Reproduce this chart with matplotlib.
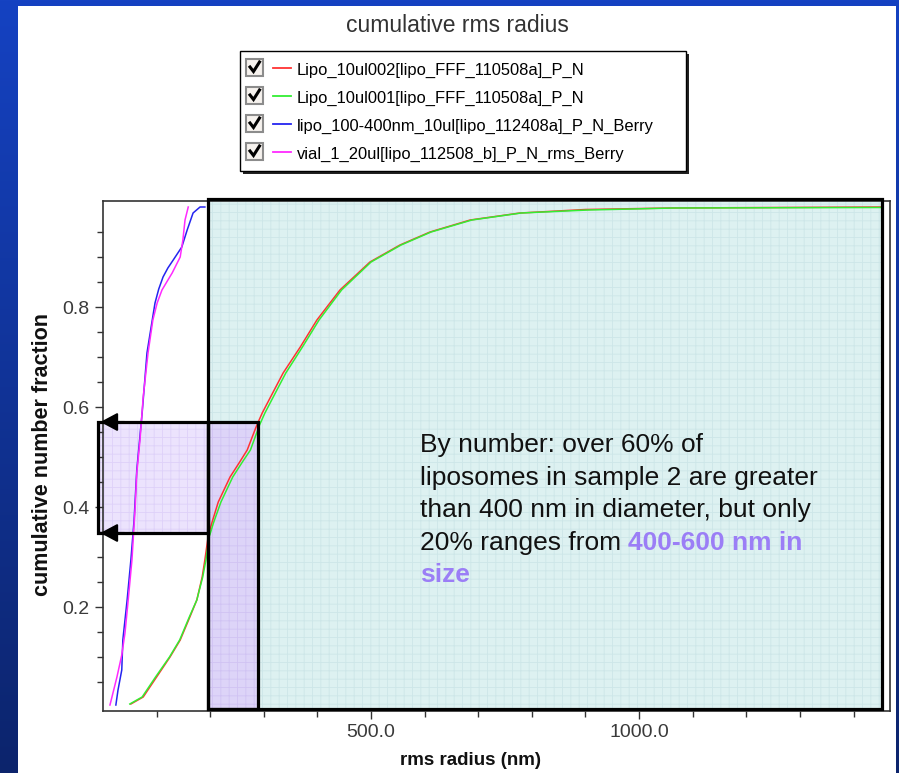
import numpy as np
import matplotlib
matplotlib.use("Agg")
import matplotlib.pyplot as plt
from matplotlib.patches import Rectangle
from matplotlib.lines import Line2D
from matplotlib.transforms import Affine2D
from matplotlib.ticker import FixedLocator, FuncFormatter
from matplotlib import font_manager

# ---------------- data ----------------
series_names = [
    "Lipo_10ul002[lipo_FFF_110508a]_P_N",
    "Lipo_10ul001[lipo_FFF_110508a]_P_N",
    "lipo_100-400nm_10ul[lipo_112408a]_P_N_Berry",
    "vial_1_20ul[lipo_112508_b]_P_N_rms_Berry",
]
series_colors = ["#ff3333", "#33ee33", "#2424f0", "#ff2aff"]

red_x = [52, 75, 100, 125, 144, 162, 175, 185, 190, 196, 203, 215, 237, 255, 269,
         287, 297, 315, 336, 368, 399, 442, 498, 554, 610, 685, 778, 900, 1060, 1450]
red_y = [0.006, 0.02, 0.06, 0.10, 0.134, 0.18, 0.214, 0.26, 0.294, 0.34, 0.368, 0.41,
         0.46, 0.49, 0.514, 0.564, 0.588, 0.625, 0.668, 0.72, 0.774, 0.834, 0.89,
         0.924, 0.95, 0.974, 0.988, 0.995, 0.998, 1.0]

green_x = [50, 73, 98, 124, 143, 161, 175, 186, 192, 198, 206, 220, 242, 260, 275,
           292, 302, 320, 341, 372, 403, 445, 500, 556, 612, 688, 780, 905, 1065, 1450]
green_y = [0.006, 0.02, 0.06, 0.10, 0.134, 0.18, 0.214, 0.26, 0.294, 0.34, 0.368, 0.41,
           0.46, 0.49, 0.514, 0.564, 0.588, 0.625, 0.668, 0.72, 0.774, 0.834, 0.89,
           0.924, 0.95, 0.974, 0.988, 0.994, 0.998, 0.999]

blue_x = [24, 28, 35, 37, 45, 52, 58, 63, 73, 78, 82, 91, 97, 104, 112, 121, 131,
          147, 157, 168, 181, 190]
blue_y = [0.004, 0.034, 0.074, 0.134, 0.214, 0.294, 0.374, 0.474, 0.588, 0.654,
          0.708, 0.768, 0.808, 0.836, 0.86, 0.878, 0.894, 0.92, 0.954, 0.988, 1.0, 1.0]

magenta_x = [13, 26, 35, 41, 47, 54, 60, 63, 69, 75, 84, 93, 101, 110, 120, 129,
             144, 149, 153, 159]
magenta_y = [0.004, 0.06, 0.104, 0.148, 0.214, 0.294, 0.40, 0.468, 0.534, 0.62,
             0.708, 0.774, 0.808, 0.834, 0.852, 0.868, 0.90, 0.934, 0.974, 1.0]

x_major = [500, 1000]
x_minor = [100, 200, 300, 400, 600, 700, 800, 900, 1100, 1200, 1300, 1400]
y_major = [0.2, 0.4, 0.6, 0.8]
y_minor = [0.05, 0.1, 0.15, 0.25, 0.3, 0.35, 0.45, 0.5, 0.55, 0.65, 0.7, 0.75,
           0.85, 0.9, 0.95]

# highlighted ranges (nm, fraction)
range_all = (196, 1453)
range_400_600 = (196, 289)
frac_low, frac_high = 0.348, 0.57

annotation_lines = [
    "By number: over 60% of",
    "liposomes in sample 2 are greater",
    "than 400 nm in diameter, but only",
    "20% ranges from ",
]
annotation_bold = ["400-600 nm in", "size"]

# ---------------- fonts ----------------
names = {f.name for f in font_manager.fontManager.ttflist}
NARROW = "Liberation Sans Narrow" if "Liberation Sans Narrow" in names else "Liberation Sans"
SANS = "Liberation Sans"
plt.rcParams["font.family"] = [SANS, "DejaVu Sans"]
plt.rcParams["hatch.linewidth"] = 0.6

W, H = 899, 773
fig = plt.figure(figsize=(W / 100, H / 100), dpi=100)
pix = Affine2D().scale(1 / W, -1 / H).translate(0, 1) + fig.transFigure

# ---------------- background frame ----------------
bg = fig.add_axes([0, 0, 1, 1], zorder=-10)
img = np.ones((H, W, 3))
t = np.linspace(0, 1, H)[:, None]
top_c = np.array([0x15, 0x42, 0xc2]) / 255
bot_c = np.array([0x0c, 0x24, 0x6c]) / 255
grad = top_c[None, :] * (1 - t) + bot_c[None, :] * t
img[:, :, :] = grad[:, None, :]
img[6:, 18:896, :] = 1.0
bg.imshow(img, aspect="auto", extent=(0, W, H, 0), interpolation="nearest")
bg.set_xlim(0, W)
bg.set_ylim(H, 0)
bg.axis("off")

# ---------------- main axes ----------------
ax = fig.add_axes([103 / W, (H - 711) / H, 787 / W, 510 / H])
ax.set_xlim(0, 1468)
ax.set_ylim(-0.008, 1.012)
ax.set_facecolor("white")

def shaded(x0, x1, y0, y1, face, hatchc, z):
    ax.add_patch(Rectangle((x0, y0), x1 - x0, y1 - y0, facecolor=face,
                           edgecolor="none", zorder=z, clip_on=False))
    ax.add_patch(Rectangle((x0, y0), x1 - x0, y1 - y0, facecolor="none",
                           edgecolor=hatchc, linewidth=0, hatch="++", zorder=z,
                           clip_on=False))

def border(x0, x1, y0, y1):
    ax.add_patch(Rectangle((x0, y0), x1 - x0, y1 - y0, facecolor="none",
                           edgecolor="black", linewidth=2.3, zorder=4,
                           clip_on=False))

shaded(range_all[0], range_all[1], -0.004, 1.017, "#ddf1f1", "#cde6e8", 1)
shaded(range_400_600[0], range_400_600[1], -0.004, frac_high, "#ddd4f8", "#d0c3f3", 1.1)
shaded(-9.3, range_all[0], frac_low, frac_high, "#ece3fd", "#ded1f9", 1.1)

ax.plot(red_x, red_y, color=series_colors[0], lw=1.1, zorder=3)
ax.plot(green_x, green_y, color=series_colors[1], lw=1.1, zorder=3)
ax.plot(blue_x, blue_y, color=series_colors[2], lw=1.1, zorder=3)
ax.plot(magenta_x, magenta_y, color=series_colors[3], lw=1.1, zorder=3)

border(range_all[0], range_all[1], -0.004, 1.017)
border(range_400_600[0], range_400_600[1], -0.004, frac_high)
border(-9.3, range_all[0], frac_low, frac_high)

for yv in (frac_high, frac_low):
    ax.annotate("", xy=(-5, yv), xytext=(40, yv), annotation_clip=False,
                arrowprops=dict(arrowstyle="-|>,head_length=0.75,head_width=0.4",
                                color="black", lw=1.5, mutation_scale=14,
                                shrinkA=0, shrinkB=0), zorder=5)

for s in ax.spines.values():
    s.set_color("#333333")
    s.set_linewidth(1.2)

ax.xaxis.set_major_locator(FixedLocator(x_major))
ax.xaxis.set_minor_locator(FixedLocator(x_minor))
ax.yaxis.set_major_locator(FixedLocator(y_major))
ax.yaxis.set_minor_locator(FixedLocator(y_minor))
ax.xaxis.set_major_formatter(FuncFormatter(lambda v, p: f"{v:.1f}"))
ax.yaxis.set_major_formatter(FuncFormatter(lambda v, p: f"{v:.1f}"))
ax.tick_params(which="major", length=6, width=1, color="#333333", pad=3.5,
               labelsize=14, labelcolor="#3a3a3a")
ax.tick_params(which="minor", length=4.5, width=1, color="#333333")
for lab in ax.get_xticklabels() + ax.get_yticklabels():
    lab.set_fontfamily(NARROW)

ax.set_xlabel("rms radius (nm)", fontfamily=NARROW, fontweight="bold",
              fontsize=13.5, color="#111111")
ax.xaxis.set_label_coords((470 - 103) / 787, (711 - 752) / 510)
ax.set_ylabel("cumulative number fraction", fontfamily=NARROW, fontweight="bold",
              fontsize=15.5, color="#111111")
ax.yaxis.set_label_coords((53 - 103) / 787, (711 - 454) / 510)

# ---------------- title ----------------
fig.text(457, 32, "cumulative rms radius", transform=pix, ha="center",
         va="baseline", fontsize=16.5, color="#333333")

# ---------------- legend ----------------
fig.patches.append(Rectangle((243, 54), 446, 120, transform=pix, facecolor="#222222",
                             edgecolor="none", zorder=5))
fig.patches.append(Rectangle((240, 51), 446, 120, transform=pix, facecolor="white",
                             edgecolor="black", linewidth=1.0, zorder=6))
for i, (name, col) in enumerate(zip(series_names, series_colors)):
    base = 75 + 28 * i
    fig.patches.append(Rectangle((246, base - 16), 17, 17, transform=pix,
                                 facecolor="#f6f2ee", edgecolor="#8c8c8c",
                                 linewidth=1.5, zorder=7))
    fig.lines.append(Line2D([250, 253.5, 259.5], [base - 8, base - 3.5, base - 13],
                            transform=pix, color="black", lw=2.2, zorder=8,
                            solid_joinstyle="miter"))
    fig.lines.append(Line2D([273, 291], [base - 7, base - 7], transform=pix,
                            color=col, lw=1.3, zorder=8))
    fig.text(297, base, name, transform=pix, ha="left", va="baseline",
             fontsize=11.9, color="black", zorder=8)

# ---------------- annotation ----------------
baselines = [452, 485, 517.5, 550, 582.5]
last = None
for line, b in zip(annotation_lines, baselines):
    last = fig.text(420, b, line, transform=pix, ha="left", va="baseline",
                    fontsize=19, color="#111111", zorder=9)
ax.annotate(annotation_bold[0], xy=(1, 0), xycoords=last, ha="left", va="bottom",
            fontsize=19, fontweight="bold", color="#9b7ef6", zorder=9,
            annotation_clip=False)
fig.text(420, baselines[4], annotation_bold[1], transform=pix, ha="left",
         va="baseline", fontsize=19, fontweight="bold", color="#9b7ef6", zorder=9)

fig.savefig("out.png", dpi=100)
